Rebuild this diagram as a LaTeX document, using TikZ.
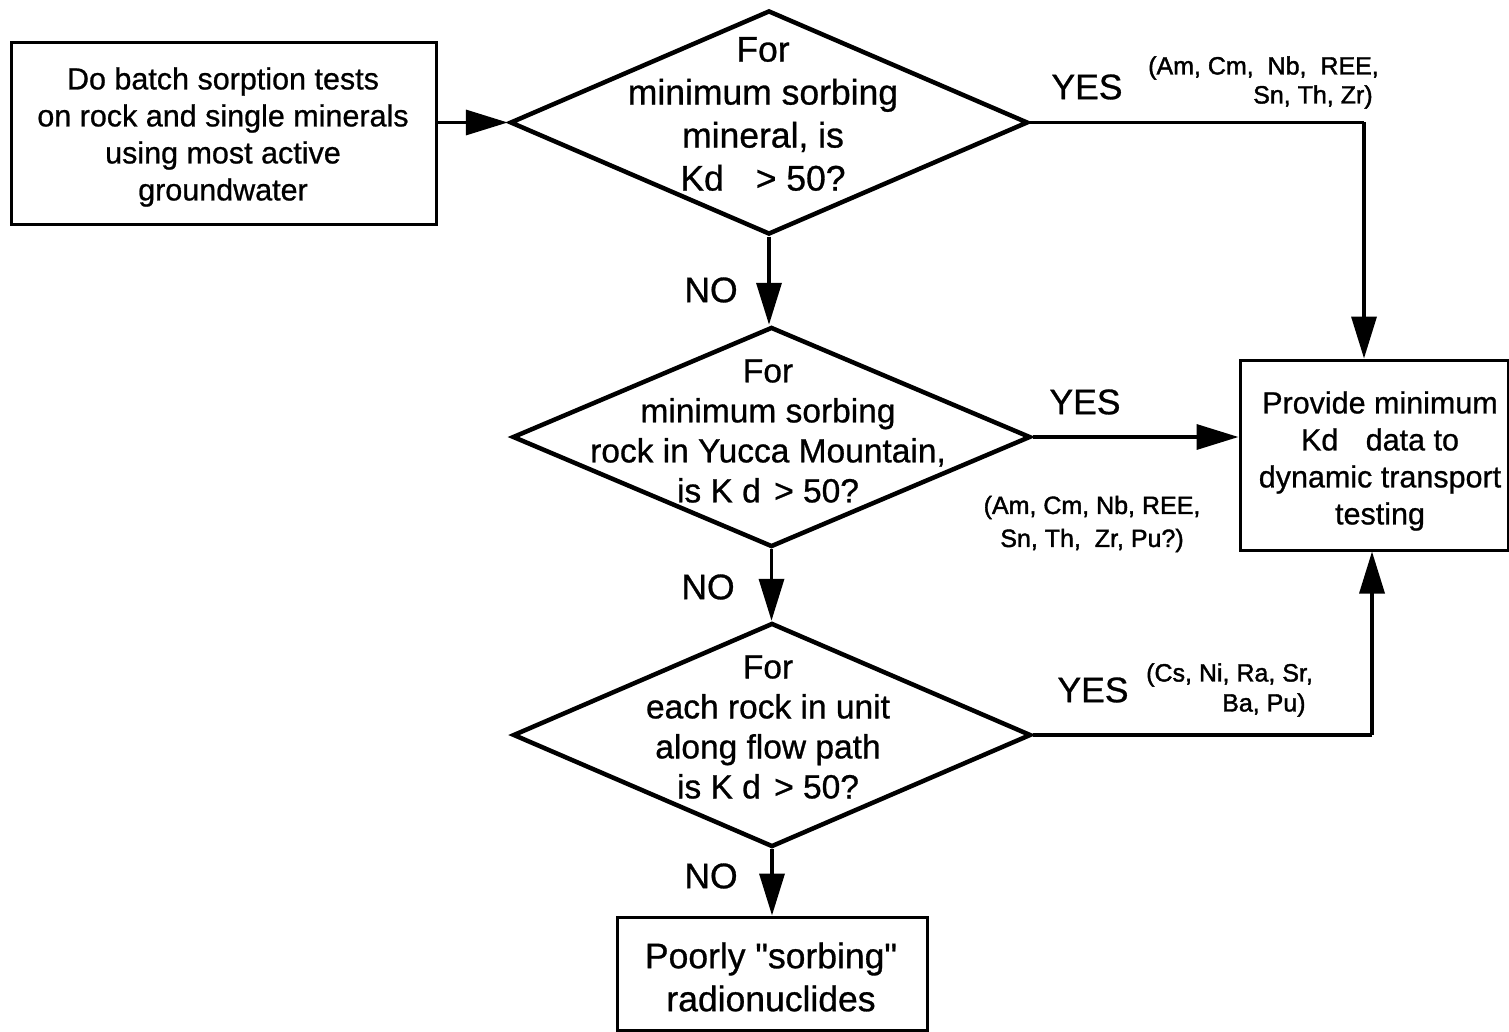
\documentclass[tikz,border=0pt]{standalone}
\usepackage{fontspec}
\setmainfont{Liberation Sans}
\newfontfamily\textheavy{Liberation Sans}[FakeBold=0.8]
\newfontfamily\listheavy{Liberation Sans}[FakeBold=1.6]
\usetikzlibrary{shapes.geometric,arrows.meta}
\begin{document}
\begin{tikzpicture}[x=1pt,y=-1pt,
  stepbox/.style={draw,line width=3pt,inner sep=0pt},
  decision/.style={draw,diamond,line width=4.5pt,inner sep=0pt,minimum width=518pt,minimum height=224pt},
  txt/.style={align=center,inner sep=0pt},
  big/.style={font=\textheavy\fontsize{35.5}{43}\selectfont},
  mid/.style={font=\textheavy\fontsize{33.5}{40}\selectfont},
  boxfont/.style={font=\textheavy\fontsize{30.5}{37}\selectfont},
  small/.style={font=\listheavy\fontsize{25}{33}\selectfont},
  flow/.style={line width=3.5pt},
  arr/.style={line width=3.5pt,-{Triangle[length=42pt,width=25pt]}}]
\useasboundingbox (0,0) rectangle (1509,1032);

% process boxes
\node[stepbox,minimum width=425pt,minimum height=182pt] (A) at (223.5,134) {};
\node[txt,boxfont] (Atext) at (223,137) {Do batch sorption tests\\on rock and single minerals\\using most active\\groundwater};

\node[stepbox,minimum width=268pt,minimum height=190pt] (B) at (1374,455) {};
\node[txt,boxfont] (Btext) at (1380,461) {Provide minimum\\Kd\hspace{0.9em}data to\\dynamic transport\\testing};

\node[stepbox,minimum width=310pt,minimum height=113pt] (C) at (772,973.5) {};
\node[txt,big] (Ctext) at (771,977) {Poorly \char34 sorbing\char34\\radionuclides};

% decisions
\node[decision] (D1) at (769,122.5) {};
\node[txt,big] (D1text) at (763,114) {For\\minimum sorbing\\mineral, is\\Kd\hspace{0.9em}> 50?};

\node[decision,minimum height=220pt] (D2) at (771.5,437) {};
\node[txt,mid] (D2text) at (768,431) {For\\minimum sorbing\\rock in Yucca Mountain,\\is K d\hspace{0.4em}> 50?};

\node[decision] (D3) at (772,735) {};
\node[txt,mid] (D3text) at (768,727) {For\\each rock in unit\\along flow path\\is K d\hspace{0.4em}> 50?};

% bend points
\coordinate (k1) at (1364,122.5);
\coordinate (k3) at (1372,735);

% connectors
\draw[arr] (A.east |- D1.west) -- (D1.west);
\draw[arr] (D1.south) -- (D1.south |- D2.north);
\draw[arr] (D2.south) -- (D2.south |- D3.north);
\draw[arr] (D3.south) -- (D3.south |- C.north);
\draw[flow] (D1.east) -- (k1);
\draw[arr] (k1) -- (k1 |- B.north);
\draw[arr] (D2.east) -- (B.west |- D2.east);
\draw[flow] (D3.east) -- (k3);
\draw[arr] (k3) -- (k3 |- B.south);

% branch labels
\node[txt,big] (no1) at (711,290) {NO};
\node[txt,big] (no2) at (708,587) {NO};
\node[txt,big] (no3) at (711,876) {NO};
\node[txt,big] (yes1) at (1087,87) {YES};
\node[txt,big] (yes2) at (1085,402) {YES};
\node[txt,big] (yes3) at (1093,690) {YES};

% element lists
\node[txt,small,anchor=west] (el1a) at (1148,68) {(Am, Cm,\ \ Nb,\ \ REE,};
\node[txt,small,anchor=west] (el1b) at (1253,97) {Sn, Th, Zr)};
\node[txt,small] (el2) at (1092,524) {(Am, Cm, Nb, REE,\\Sn, Th,\ \ Zr, Pu?)};
\node[txt,small,anchor=west] (el3a) at (1146,675) {(Cs, Ni, Ra, Sr,};
\node[txt,small,anchor=west] (el3b) at (1222,705) {Ba, Pu)};
\end{tikzpicture}
\end{document}
